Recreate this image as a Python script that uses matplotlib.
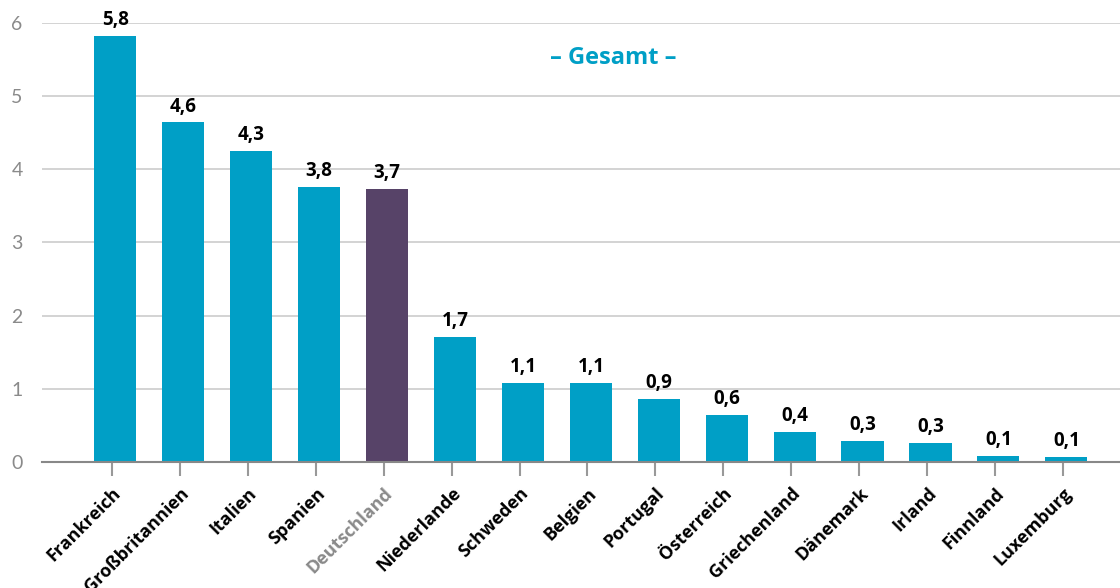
import matplotlib.pyplot as plt
import numpy as np

# Data
laender = ['Frankreich', 'Großbritannien', 'Italien', 'Spanien', 'Deutschland',
           'Niederlande', 'Schweden', 'Belgien', 'Portugal', 'Österreich',
           'Griechenland', 'Dänemark', 'Irland', 'Finnland', 'Luxemburg']
werte = [5.82, 4.64, 4.25, 3.76, 3.73, 1.71, 1.08, 1.08, 0.86, 0.64,
         0.41, 0.29, 0.26, 0.08, 0.07]
beschriftung = ['5,8', '4,6', '4,3', '3,8', '3,7', '1,7', '1,1', '1,1', '0,9',
                '0,6', '0,4', '0,3', '0,3', '0,1', '0,1']
highlight = 'Deutschland'

blau = '#009fc6'
lila = '#574368'
grau = '#8a8a8a'

plt.rcParams['font.family'] = ['Open Sans', 'DejaVu Sans']

fig = plt.figure(figsize=(11.2, 5.88), dpi=100)
ax = fig.add_axes([0.0375, 0.2143, 0.9625, 0.7467])

x = np.arange(len(laender))
farben = [lila if l == highlight else blau for l in laender]
bars = ax.bar(x + 0.05, werte, width=0.62, color=farben, zorder=3)

for b, txt in zip(bars, beschriftung):
    ax.text(b.get_x() + b.get_width() / 2, b.get_height() + 0.08, txt,
            ha='center', va='bottom', fontsize=13.5, fontweight='bold',
            color='black', clip_on=False)

ax.set_xlim(-1.03, 14.84)
ax.set_ylim(0, 6)
ax.set_yticks(range(7))
ax.yaxis.grid(True, color='#cccccc', linewidth=1.2, zorder=0)
ax.tick_params(axis='y', length=0, labelsize=14, labelcolor=grau, pad=14)
for lbl in ax.get_yticklabels():
    lbl.set_family(['Lato', 'DejaVu Sans'])

ax.set_xticks(x)
ax.set_xticklabels(laender, rotation=45, ha='right', rotation_mode='anchor',
                   fontsize=13, fontweight='bold')
ax.tick_params(axis='x', length=10, width=1.5, color='#999999', pad=6)
for lbl in ax.get_xticklabels():
    if lbl.get_text() == highlight:
        lbl.set_color(grau)

for s in ['top', 'right', 'left']:
    ax.spines[s].set_visible(False)
ax.spines['bottom'].set_color('#888888')
ax.spines['bottom'].set_linewidth(1.5)
ax.spines['bottom'].set_zorder(4)

ax.text(0.53, 0.92, '– Gesamt –', transform=ax.transAxes, ha='center',
        va='center', fontsize=17, fontweight='bold', color=blau)

fig.savefig('out.png', dpi=100)
